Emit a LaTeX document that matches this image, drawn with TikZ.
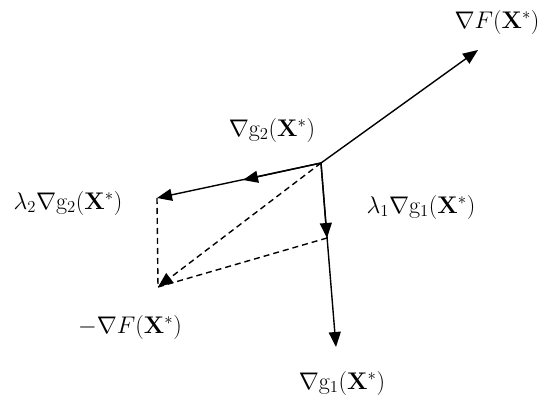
\documentclass[tikz,border=0pt]{standalone}
\usetikzlibrary{arrows.meta}
\newcommand{\veclabel}[1]{\scalebox{1.16}{$#1$}}
\begin{document}
\begin{tikzpicture}[x=1pt,y=-1pt,
		vec/.style={line width=1.4pt,-{Triangle[length=15pt,width=12pt]}},
		aux/.style={line width=1.4pt,dash pattern=on 6pt off 4pt},
		lbl/.style={font=\huge,inner sep=0pt}]
		\useasboundingbox (0,0) rectangle (550,412);

		\coordinate (O) at (321,163);
		\coordinate (gradF) at (478,50);
		\coordinate (gradG2) at (243,180);
		\coordinate (lamG2) at (157,198);
		\coordinate (gradG1) at (336,347);
		\coordinate (lamG1) at (327,238);
		\coordinate (negF) at (158,287);

		\draw[vec] (O) -- (gradF);
		\draw[vec] (O) -- (lamG2);
		\draw[vec] (O) -- (gradG2);
		\draw[vec] (O) -- (gradG1);
		\draw[vec] (O) -- (lamG1);
		\draw[aux, -{Triangle[length=15pt,width=12pt]}] (O) -- (negF);
		\draw[aux] (lamG2) -- (negF);
		\draw[aux] (lamG1) -- (negF);

		\node[lbl] (labF) at (497,22) {\veclabel{\nabla F(\mathbf{X}^{*})}};
		\node[lbl] (labG2) at (272,130) {\veclabel{\nabla \mathrm{g}_2(\mathbf{X}^{*})}};
		\node[lbl] (labLamG2) at (68,203) {\veclabel{\lambda_2\nabla \mathrm{g}_2(\mathbf{X}^{*})}};
		\node[lbl] (labLamG1) at (421,207) {\veclabel{\lambda_1\nabla \mathrm{g}_1(\mathbf{X}^{*})}};
		\node[lbl] (labNegF) at (130,327) {\veclabel{-\nabla F(\mathbf{X}^{*})}};
		\node[lbl] (labG1) at (342,383) {\veclabel{\nabla \mathrm{g}_1(\mathbf{X}^{*})}};
	\end{tikzpicture}
\end{document}
